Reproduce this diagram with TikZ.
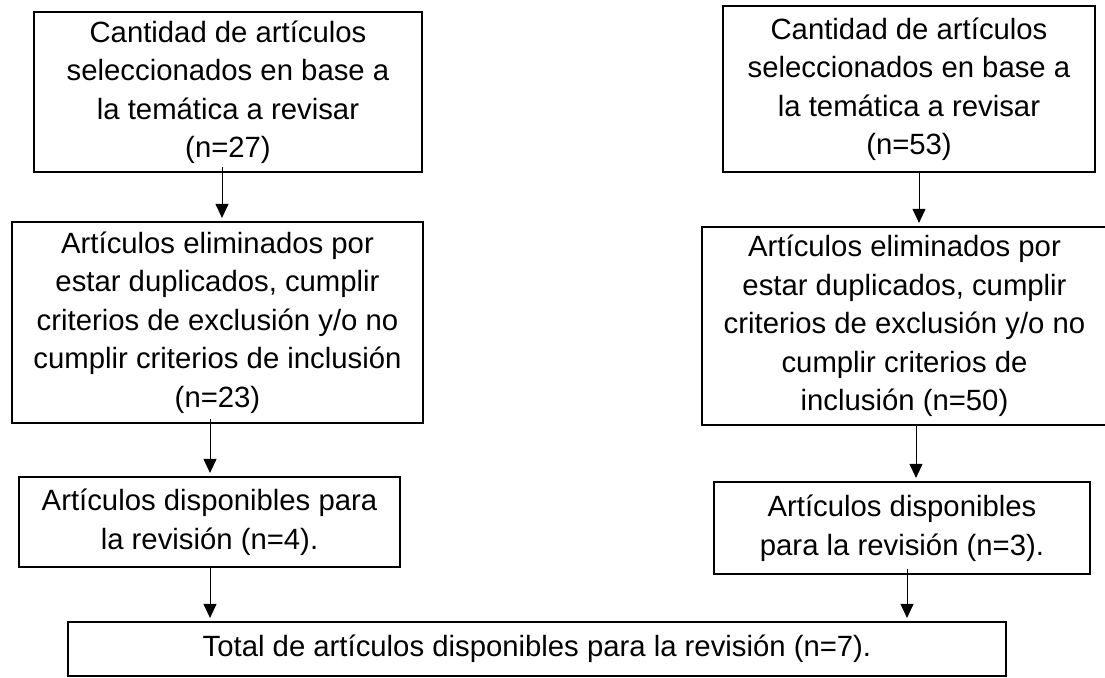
\documentclass[tikz,border=0pt]{standalone}
\usepackage{fontspec}
\setmainfont{Liberation Sans}
\usetikzlibrary{arrows.meta}

\tikzset{
  caja/.style={draw, line width=1.4pt, align=center, inner sep=0pt,
    font=\fontsize{29.3}{38.5}\selectfont},
  gruesa/.style={line width=2.2pt},
  flecha/.style={line width=1pt, shorten >=3pt, -{Triangle[length=14pt, width=13pt]}}
}

\begin{document}
\begin{tikzpicture}[x=1pt, y=-1pt]
            \useasboundingbox (0,0) rectangle (1105,677);
            % columna izquierda
            \node[caja, minimum width=388pt, minimum height=160pt] (izq1) at (228,92)
                {Cantidad de artículos\\seleccionados en base a\\la temática a revisar\\(n=27)};
            \node[caja, gruesa, minimum width=411pt, minimum height=201pt] (izq2) at (217.5,322.5)
                {Artículos eliminados por\\estar duplicados, cumplir\\criterios de exclusión y/o no\\cumplir criterios de inclusión\\(n=23)};
            \node[caja, gruesa, minimum width=381pt, minimum height=90pt] (izq3) at (209.5,522)
                {Artículos disponibles para\\la revisión (n=4).};
            % columna derecha
            \node[caja, minimum width=372pt, minimum height=166pt] (der1) at (909,89)
                {Cantidad de artículos\\seleccionados en base a\\la temática a revisar\\(n=53)};
            \node[caja, gruesa, minimum width=405pt, minimum height=198pt] (der2) at (904.5,326)
                {Artículos eliminados por\\estar duplicados, cumplir\\criterios de exclusión y/o no\\cumplir criterios de\\inclusión (n=50)};
            \node[caja, gruesa, minimum width=376pt, minimum height=92pt] (der3) at (902,528)
                {Artículos disponibles\\para la revisión (n=3).};
            % total
            \node[caja, gruesa, minimum width=938pt, minimum height=54pt] (total) at (537,649)
                {Total de artículos disponibles para la revisión (n=7).};
            \draw[flecha] ([xshift=-6pt, yshift=6pt]izq1.south) -- ([xshift=-6pt]izq1.south |- izq2.north);
            \draw[flecha] ([xshift=-7.5pt, yshift=5pt]izq2.south) -- ([xshift=-7.5pt]izq2.south |- izq3.north);
            \draw[flecha] ([xshift=0.5pt, yshift=2pt]izq3.south) -- ([xshift=0.5pt]izq3.south |- total.north);
            \draw[flecha] ([xshift=10pt, yshift=2pt]der1.south) -- ([xshift=10pt]der1.south |- der2.north);
            \draw[flecha] ([xshift=11.5pt, yshift=2pt]der2.south) -- ([xshift=11.5pt]der2.south |- der3.north);
            \draw[flecha] ([xshift=5pt, yshift=6pt]der3.south) -- ([xshift=5pt]der3.south |- total.north);
        \end{tikzpicture}
\end{document}
